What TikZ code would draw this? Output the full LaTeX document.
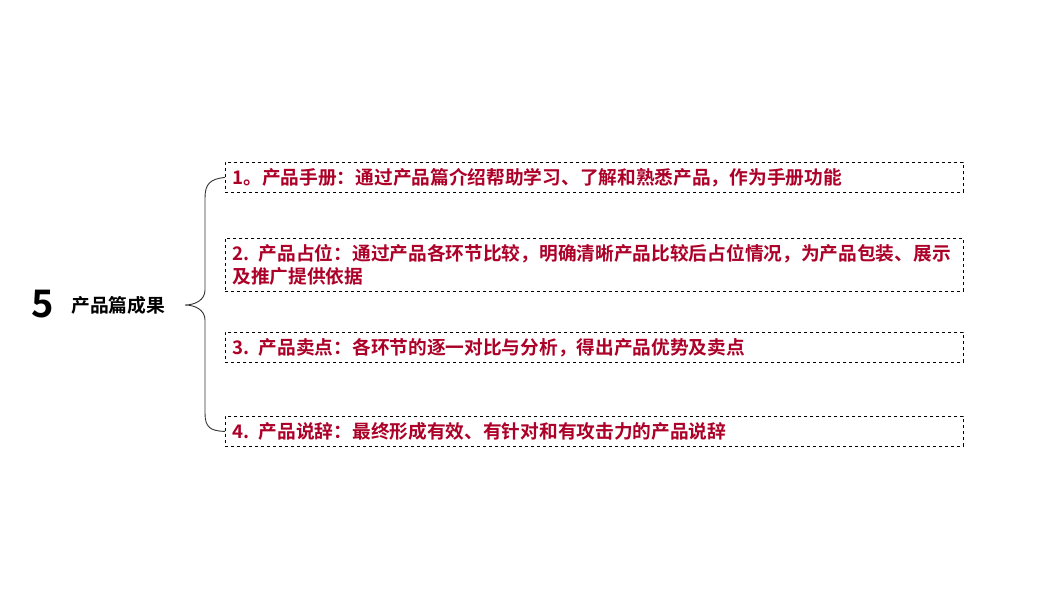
\documentclass[tikz,border=0pt]{standalone}
\usepackage{fontspec}
\setmainfont{Noto Sans CJK SC}[BoldFont={Noto Sans CJK SC Bold}]
\newfontfamily\cjkb{Noto Sans CJK SC Bold}
\definecolor{itemred}{HTML}{AC0028}
\begin{document}
\begin{tikzpicture}[x=1pt,y=-1pt,
  itembox/.style={draw=black, dashed, line width=0.8pt, anchor=north west,
    text width=724pt, inner xsep=7pt, inner ysep=0pt, align=left,
    font=\cjkb\fontsize{18.7}{22.5}\selectfont, text=itemred},
  brace/.style={draw=black!80, line width=0.9pt}]
\useasboundingbox (0,0) rectangle (1040,604);
\node[anchor=west, font=\cjkb\fontsize{38}{38}\selectfont, inner sep=0pt] (num) at (31,304) {5};
\node[anchor=west, font=\cjkb\fontsize{18.8}{20}\selectfont, inner sep=0pt] (title) at (71,305) {产品篇成果};
\node[itembox, minimum height=30pt] (b1) at (225,162) {1。产品手册：通过产品篇介绍帮助学习、了解和熟悉产品，作为手册功能};
\node[itembox, minimum height=53pt] (b2) at (225,238) {2. 产品占位：通过产品各环节比较，明确清晰产品比较后占位情况，为产品包装、展示\\及推广提供依据};
\node[itembox, minimum height=30pt] (b3) at (225,332) {3. 产品卖点：各环节的逐一对比与分析，得出产品优势及卖点};
\node[itembox, minimum height=30pt] (b4) at (225,416) {4. 产品说辞：最终形成有效、有针对和有攻击力的产品说辞};
\coordinate (tip) at (185,305);
\path[brace] (b1.west) .. controls (210,179) and (205,184) .. (205,198)
  -- (205,290) .. controls (205,300) and (195,305) .. (tip)
  .. controls (195,305) and (205,310) .. (205,320)
  -- (205,413) .. controls (205,427) and (210,431) .. (b4.west);
\end{tikzpicture}
\end{document}
